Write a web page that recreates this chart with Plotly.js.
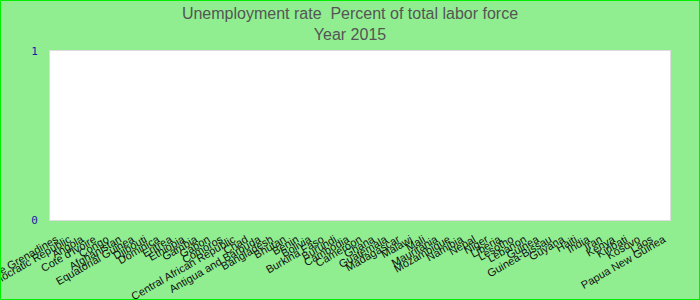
<!DOCTYPE html>
<html>
<head>
<meta charset="utf-8">
<script src="https://cdn.plot.ly/plotly-3.0.1.min.js"></script>
<style>
  html, body { margin: 0; padding: 0; background: #90EE90; }
  #chart { width: 700px; height: 300px; box-sizing: border-box; border: 1px solid #00EE00; }
</style>
</head>
<body>
<div id="chart"></div>
<script>
const countries = [
  "St. Vincent and the Grenadines", "Congo, Democratic Republic", "Angola", "Cote d'Ivoire", "Congo",
  "Afghanistan", "Equatorial Guinea", "Djibouti", "Dominica", "Eritrea", "Ethiopia", "Gambia", "Gabon",
  "Comoros", "Central African Republic", "Chad", "Antigua and Barbuda", "Bangladesh", "Bhutan", "Benin",
  "Bolivia", "Burkina Faso", "Burundi", "Cambodia", "Cameroon", "Ghana", "Guatemala", "Madagascar",
  "Malawi", "Mali", "Mauritania", "Mozambique", "Namibia", "Nepal", "Niger", "Liberia", "Lesotho",
  "Lebanon", "Guinea", "Guinea-Bissau", "Guyana", "Haiti", "India", "Iran", "Kenya", "Kiribati",
  "Kosovo", "Laos", "Papua New Guinea"
];
const unemployment2015 = countries.map(() => 0);
const yTicks = [0, 1];

const trace = {
  type: 'bar',
  x: countries,
  y: unemployment2015,
  marker: { color: '#1f77b4' },
  hoverinfo: 'x+y'
};

const layout = {
  width: 698, height: 298,
  paper_bgcolor: '#90EE90',
  plot_bgcolor: '#ffffff',
  margin: { l: 49, r: 29, t: 50, b: 79 },
  title: {
    text: 'Unemployment rate  Percent of total labor force<br>Year 2015',
    font: { family: 'Liberation Sans, Arial, sans-serif', size: 16, color: '#555555' },
    x: 0.5, xanchor: 'center', y: 0.94, yanchor: 'middle'
  },
  showlegend: false,
  xaxis: {
    type: 'category',
    tickmode: 'array',
    tickvals: countries,
    ticktext: countries,
    tickangle: -30,
    automargin: false,
    tickfont: { family: 'Liberation Sans, Arial, sans-serif', size: 11, color: '#111111' },
    showgrid: false,
    showline: true, mirror: true, linecolor: '#dddddd', linewidth: 1,
    ticks: 'outside', ticklen: 8, tickcolor: 'rgba(0,0,0,0)'
  },
  yaxis: {
    range: [0, 1],
    tickvals: yTicks,
    ticktext: yTicks.map(String),
    automargin: false,
    tickfont: { family: 'DejaVu Sans Mono, monospace', size: 11, color: '#1a1aa8' },
    showgrid: false, zeroline: false,
    showline: true, mirror: true, linecolor: '#dddddd', linewidth: 1,
    ticks: 'outside', ticklen: 9, tickcolor: 'rgba(0,0,0,0)'
  }
};

Plotly.newPlot('chart', [trace], layout, { displayModeBar: false, staticPlot: true });
</script>
</body>
</html>
